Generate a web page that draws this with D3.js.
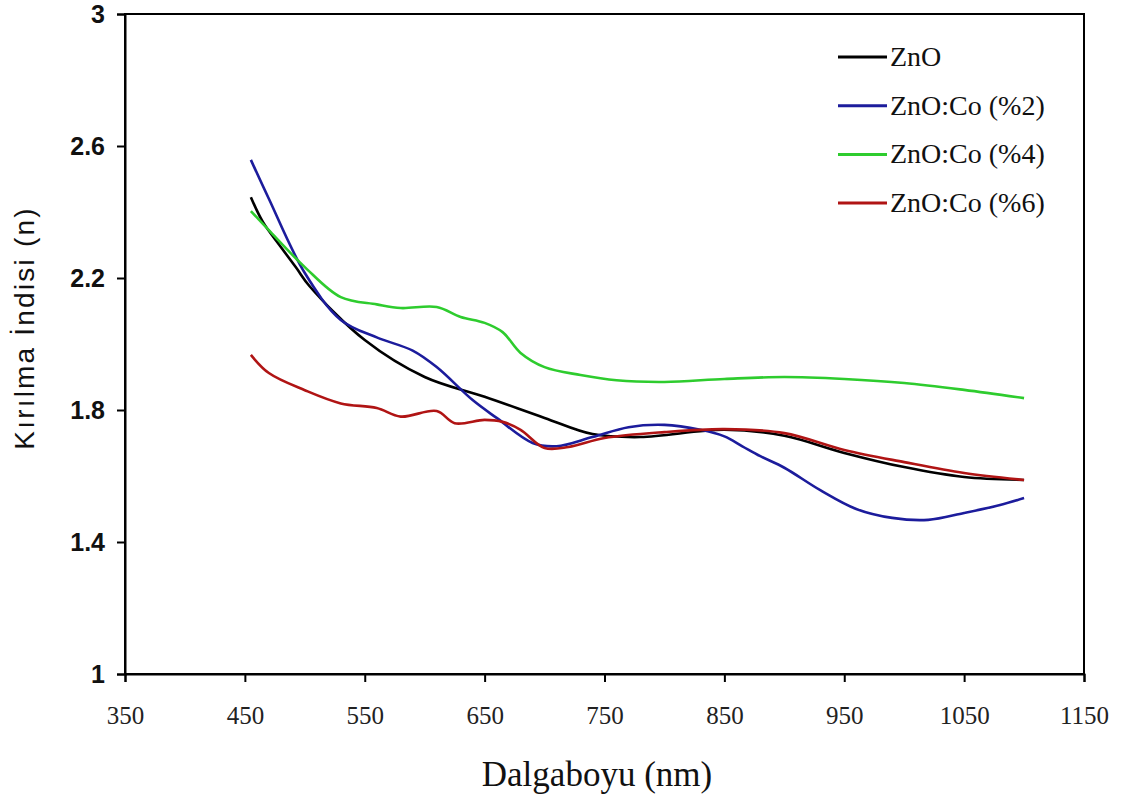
<!DOCTYPE html>
<html>
<head>
<meta charset="utf-8">
<script src="https://cdn.jsdelivr.net/npm/d3@7"></script>
<style>
  body { margin: 0; background: #fff; }
  svg { display: block; }
  .serif { font-family: "Liberation Serif", "Times New Roman", serif; }
  .sans { font-family: "Liberation Sans", Arial, sans-serif; }
</style>
</head>
<body>
<svg id="chart" width="1121" height="798"></svg>
<script>
// Wavelength ticks (nm) and refractive-index ticks
const xTicks = [350, 450, 550, 650, 750, 850, 950, 1050, 1150];
const yTicks = [1, 1.4, 1.8, 2.2, 2.6, 3];

// Refractive index n versus wavelength for each film
const znoWl   = [455, 465, 480, 493, 504, 550, 600, 650, 700, 740, 780, 850, 900, 950, 1000, 1050, 1100];
const znoN    = [2.445, 2.37, 2.294, 2.23, 2.175, 2.012, 1.90, 1.84, 1.776, 1.727, 1.718, 1.74, 1.722, 1.67, 1.627, 1.597, 1.588];

const co2Wl   = [455, 470, 500, 530, 560, 590, 610, 640, 660, 690, 710, 740, 770, 800, 830, 850, 865, 880, 900, 930, 960, 990, 1020, 1050, 1080, 1100];
const co2N    = [2.558, 2.44, 2.215, 2.073, 2.02, 1.98, 1.93, 1.83, 1.776, 1.70, 1.69, 1.718, 1.748, 1.755, 1.74, 1.72, 1.69, 1.66, 1.625, 1.557, 1.50, 1.473, 1.467, 1.488, 1.512, 1.533];

const co4Wl   = [455, 470, 500, 530, 560, 580, 610, 630, 650, 665, 680, 700, 730, 760, 800, 850, 900, 950, 1000, 1050, 1100];
const co4N    = [2.403, 2.345, 2.233, 2.142, 2.12, 2.109, 2.112, 2.082, 2.064, 2.036, 1.973, 1.93, 1.906, 1.89, 1.885, 1.894, 1.90, 1.894, 1.882, 1.861, 1.836];

const co6Wl   = [455, 470, 500, 530, 560, 580, 610, 625, 650, 665, 680, 700, 720, 750, 800, 850, 900, 950, 1000, 1050, 1100];
const co6N    = [1.967, 1.912, 1.86, 1.82, 1.806, 1.78, 1.797, 1.76, 1.77, 1.764, 1.74, 1.685, 1.688, 1.715, 1.733, 1.742, 1.73, 1.679, 1.642, 1.609, 1.588];

const seriesNames  = ["ZnO", "ZnO:Co (%2)", "ZnO:Co (%4)", "ZnO:Co (%6)"];
const seriesColors = ["#000000", "#1c1c9c", "#2ecc2e", "#b01414"];

const series = [
  { name: seriesNames[0], color: seriesColors[0], wl: znoWl, n: znoN },
  { name: seriesNames[1], color: seriesColors[1], wl: co2Wl, n: co2N },
  { name: seriesNames[2], color: seriesColors[2], wl: co4Wl, n: co4N },
  { name: seriesNames[3], color: seriesColors[3], wl: co6Wl, n: co6N }
];

const svg = d3.select("#chart");
const plot = { left: 125, right: 1084, top: 14, bottom: 674 };

const x = d3.scaleLinear().domain([350, 1150]).range([plot.left, plot.right]);
const y = d3.scaleLinear().domain([1, 3]).range([plot.bottom, plot.top]);

// Plot frame
svg.append("rect")
  .attr("x", plot.left).attr("y", plot.top)
  .attr("width", plot.right - plot.left).attr("height", plot.bottom - plot.top)
  .attr("fill", "none").attr("stroke", "#000").attr("stroke-width", 2);

// Data lines (drawn before the axes so ticks stay on top)
const line = d3.line()
  .x(d => x(d[0])).y(d => y(d[1]))
  .curve(d3.curveCatmullRom.alpha(0.5));

series.forEach(s => {
  svg.append("path")
    .datum(d3.zip(s.wl, s.n))
    .attr("d", line)
    .attr("fill", "none")
    .attr("stroke", s.color)
    .attr("stroke-width", 2.6)
    .attr("stroke-linejoin", "round");
});

// X axis
const xAxis = svg.append("g")
  .attr("transform", `translate(0,${plot.bottom})`)
  .call(d3.axisBottom(x).tickValues(xTicks).tickSize(8).tickPadding(24).tickFormat(d3.format("d")));
xAxis.attr("font-family", null).attr("font-size", null);
xAxis.select(".domain").attr("stroke-width", 2);
xAxis.selectAll(".tick line").attr("stroke-width", 2);
xAxis.selectAll("text")
  .attr("class", "serif")
  .style("font-size", "25px").attr("fill", "#222");

// Y axis
const yAxis = svg.append("g")
  .attr("transform", `translate(${plot.left},0)`)
  .call(d3.axisLeft(y).tickValues(yTicks).tickSize(8).tickPadding(12).tickFormat(d => d3.format("")(d)));
yAxis.attr("font-family", null).attr("font-size", null);
yAxis.select(".domain").attr("stroke-width", 2);
yAxis.selectAll(".tick line").attr("stroke-width", 2);
yAxis.selectAll("text")
  .attr("class", "sans")
  .style("font-weight", "bold")
  .style("font-size", "25px").attr("fill", "#111");

// Axis titles
svg.append("text")
  .attr("class", "serif")
  .attr("x", 597).attr("y", 786)
  .attr("text-anchor", "middle")
  .style("font-size", "35px").attr("fill", "#111")
  .text("Dalgaboyu (nm)");

svg.append("text")
  .attr("class", "sans")
  .attr("transform", "translate(34,328) rotate(-90)")
  .attr("text-anchor", "middle")
  .style("font-size", "28px").style("letter-spacing", "2.2px").attr("fill", "#111")
  .text("Kırılma İndisi (n)");

// Legend
const legend = svg.append("g").attr("transform", "translate(838,57)");
series.forEach((s, i) => {
  const g = legend.append("g").attr("transform", `translate(0,${i * 48.7})`);
  g.append("line").attr("x1", 0).attr("x2", 49).attr("y1", 0).attr("y2", 0)
    .attr("stroke", s.color).attr("stroke-width", 3);
  g.append("text").attr("class", "serif").attr("x", 52).attr("y", 9)
    .style("font-size", "28px").attr("fill", "#111")
    .text(s.name);
});
</script>
</body>
</html>
